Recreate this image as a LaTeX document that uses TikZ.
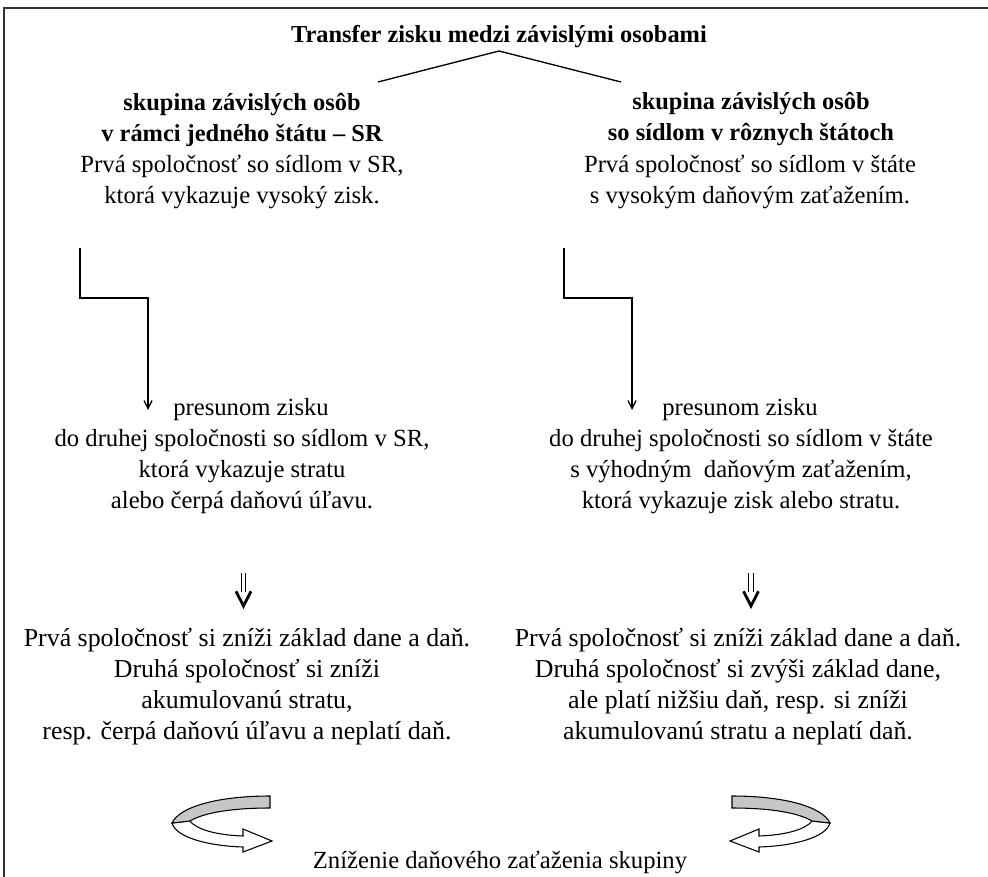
\documentclass[tikz,border=0pt]{standalone}
\usepackage{fontspec}
\setmainfont{Liberation Serif}
\usetikzlibrary{arrows.meta}
\begin{document}
\begin{tikzpicture}[x=0.75pt,y=-0.75pt,
  txt/.style={font=\fontsize{18.5}{23.25}\selectfont, align=center, inner sep=0pt},
  bigtxt/.style={font=\fontsize{19.4}{23.25}\selectfont, align=center, inner sep=0pt},
  hd/.style={font=\fontsize{18.3}{23.25}\selectfont\bfseries, align=center, inner sep=0pt},
  conn/.style={line width=1pt, -{Straight Barb[length=6pt,width=6pt]}},
  frameline/.style={line width=1.4pt, black!80},
  band/.style={line width=0.8pt, fill=black!22},
  backside/.style={line width=0.8pt, fill=white},
  dshaft/.style={line width=0.7pt},
  dhead/.style={line width=2.1pt, miter limit=10}]
\useasboundingbox (0,0) rectangle (988,877);
% frame
\draw[frameline] (4,877) -- (4,8) -- (988,8);
% title
\node[hd] (title) at (499,37) {Transfer zisku medzi závislými osobami};
\coordinate (apex) at (499,51);
\coordinate (tl) at (378,82);
\coordinate (tr) at (621,82);
\draw[line width=1pt] (tl) -- (apex) -- (tr);
% left column
\node[hd] (lhead) at (242,119.5) {skupina závislých osôb\\v rámci jedného štátu – SR};
\node[txt] (lfirst) at (242,181.5) {Prvá spoločnosť so sídlom v SR,\\ktorá vykazuje vysoký zisk.};
\node[txt, anchor=west] (lmove) at (173,410) {presunom zisku};
\node[txt] (lsecond) at (242,472) {do druhej spoločnosti so sídlom v SR,\\ktorá vykazuje stratu\\alebo čerpá daňovú úľavu.};
\node[bigtxt] (lresult) at (247,686.5) {Prvá spoločnosť si zníži základ dane a daň.\\Druhá spoločnosť si zníži\\akumulovanú stratu,\\resp. čerpá daňovú úľavu a neplatí daň.};
% right column
\node[hd] (rhead) at (751,119.5) {skupina závislých osôb\\so sídlom v rôznych štátoch};
\node[txt] (rfirst) at (750,181.5) {Prvá spoločnosť so sídlom v štáte\\s vysokým daňovým zaťažením.};
\node[txt, anchor=west] (rmove) at (662,410) {presunom zisku};
\node[txt] (rsecond) at (741,472) {do druhej spoločnosti so sídlom v štáte\\s výhodným\ \ daňovým zaťažením,\\ktorá vykazuje zisk alebo stratu.};
\node[bigtxt] (rresult) at (738,686.5) {Prvá spoločnosť si zníži základ dane a daň.\\Druhá spoločnosť si zvýši základ dane,\\ale platí nižšiu daň, resp. si zníži\\akumulovanú stratu a neplatí daň.};
% bottom
\node[txt] (bottom) at (500,862) {Zníženie daňového zaťaženia skupiny};
% elbow connectors
\coordinate (ls) at (80,248);
\coordinate (le) at (148,410);
\draw[conn] (ls) -- ++(0,50) -| (le);
\coordinate (rs) at (564,248);
\coordinate (re) at (632,410);
\draw[conn] (rs) -- ++(0,50) -| (re);
% double arrows
\foreach \cx/\nm in {243.5/ld, 751/rd} {
  \coordinate (\nm t) at (\cx,573);
  \coordinate (\nm b) at (\cx,606);
  \draw[dshaft] ([xshift=-1.7pt]\nm t) -- ++(0,19) ([xshift=1.7pt]\nm t) -- ++(0,19);
  \draw[dhead] ([xshift=-5.6pt,yshift=11pt]\nm b) -- (\nm b) -- ([xshift=5.6pt,yshift=11pt]\nm b);
}
% curved arrows
\foreach \sh/\sc in {0/1, 1002/-1} {
\begin{scope}[shift={(\sh,0)}, xscale=\sc]
  \draw[backside] (172,823) .. controls (176,838) and (210,846) .. (243,847)
     -- (243,852) -- (272,841) -- (243,829) -- (243,836)
     .. controls (215,835) and (196,829) .. (190,821) -- cycle;
  \draw[band] (270,796) .. controls (220,796) and (180,806) .. (172,823)
     -- (190,821) .. controls (205,812) and (235,808) .. (270,808) -- cycle;
\end{scope}
}
\end{tikzpicture}
\end{document}
